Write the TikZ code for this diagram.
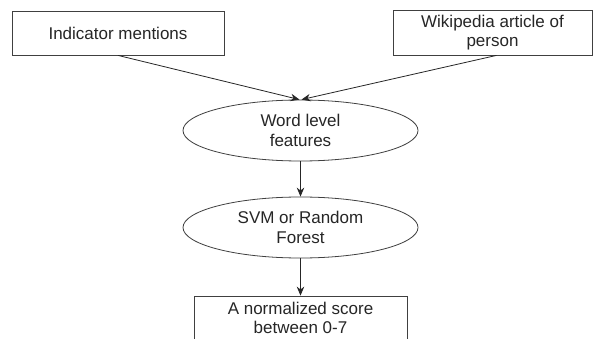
\documentclass[tikz,border=0pt]{standalone}
\usepackage{fontspec}
\setmainfont{Liberation Sans}
\usetikzlibrary{shapes.geometric,arrows.meta}
\tikzset{
  boxnode/.style={draw=black!75, line width=0.8pt, fill=white, inner sep=0pt,
    minimum height=44pt, align=center, font=\fontsize{17}{19.5}\selectfont, text=black!85},
  ellnode/.style={draw=black!75, line width=0.8pt, ellipse, inner sep=0pt,
    minimum width=235pt, minimum height=61pt, align=center, font=\fontsize{17}{19.5}\selectfont, text=black!85},
  arr/.style={draw=black!85, line width=0.8pt, -{Stealth[length=9pt,width=7.5pt]}}
}
\begin{document}
\begin{tikzpicture}[x=1pt,y=-1pt]
\clip (0,0) rectangle (594,339);
\fill[white] (0,0) rectangle (594,339);
\node[boxnode, minimum width=212pt] (ind) at (118,33) {Indicator mentions};
\node[boxnode, minimum width=199pt, minimum height=45pt] (wiki) at (492.5,32.5) {Wikipedia article of\\person};
\node[ellnode] (wlf) at (300.5,130.5) {Word level\\features};
\node[ellnode] (svm) at (300.5,227.5) {SVM or Random\\Forest};
\node[boxnode, minimum width=213pt] (score) at (300.5,318) {A normalized score\\between 0-7};
\draw[arr] (ind.south) -- ([xshift=-1pt]wlf.north);
\draw[arr] ([xshift=4pt]wiki.south) -- ([xshift=1pt]wlf.north);
\draw[arr] (wlf.south) -- (svm.north);
\draw[arr] (svm.south) -- (score.north);
\end{tikzpicture}
\end{document}
